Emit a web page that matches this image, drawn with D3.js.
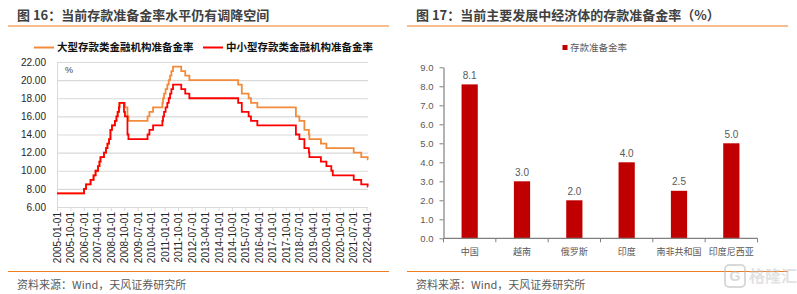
<!DOCTYPE html>
<html><head><meta charset="utf-8">
<script src="https://cdn.jsdelivr.net/npm/d3@7"></script>
<style>body{margin:0;background:#fff}svg{display:block}</style>
</head><body>
<svg id="c" width="797" height="294"></svg>
<script>
// ---------- Figure 16 data ----------
const rrrDates = ["2005-01-01","2006-07-05","2006-08-15","2006-11-15","2007-01-15","2007-02-25","2007-04-16","2007-05-15","2007-06-05","2007-08-15","2007-09-25","2007-10-25","2007-11-26","2007-12-25","2008-01-25","2008-03-25","2008-04-25","2008-05-20","2008-06-15","2008-06-25","2008-09-25","2008-10-15","2008-12-05","2008-12-25","2010-01-18","2010-02-25","2010-05-10","2010-11-16","2010-11-29","2010-12-20","2011-01-20","2011-02-24","2011-03-25","2011-04-21","2011-05-18","2011-06-20","2011-12-05","2012-02-24","2012-05-18","2015-02-05","2015-04-20","2015-09-06","2015-10-24","2016-03-01","2018-04-25","2018-07-05","2018-10-15","2019-01-15","2019-01-25","2019-09-16","2020-01-06","2020-04-15","2020-05-15","2021-07-15","2021-12-15","2022-04-25","2022-04-30"];
const largeRRR = [7.5,8.0,8.5,9.0,9.5,10.0,10.5,11.0,11.5,12.0,12.5,13.0,13.5,14.5,15.0,15.5,16.0,16.5,17.0,17.5,17.5,17.0,16.0,15.5,16.0,16.5,17.0,17.5,18.0,18.5,19.0,19.5,20.0,20.5,21.0,21.5,21.0,20.5,20.0,19.5,18.5,18.0,17.5,17.0,16.0,15.5,14.5,14.0,13.5,13.0,12.5,12.5,12.5,12.0,11.5,11.25,11.25];
const smallRRR = [7.5,8.0,8.5,9.0,9.5,10.0,10.5,11.0,11.5,12.0,12.5,13.0,13.5,14.5,15.0,15.5,16.0,16.5,17.0,17.5,16.5,16.0,14.0,13.5,14.0,14.5,15.0,15.5,16.0,16.5,17.0,17.5,18.0,18.5,19.0,19.5,19.0,18.5,18.0,17.5,16.5,16.0,15.5,15.0,14.0,13.5,12.5,12.0,11.5,11.0,10.5,10.0,9.5,9.0,8.5,8.25,8.25];
const lineSeriesNames = ["大型存款类金融机构准备金率","中小型存款类金融机构准备金率"];
const lineXTicks = ["2005-01-01","2005-10-01","2006-07-01","2007-04-01","2008-01-01","2008-10-01","2009-07-01","2010-04-01","2011-01-01","2011-10-01","2012-07-01","2013-04-01","2014-01-01","2014-10-01","2015-07-01","2016-04-01","2017-01-01","2017-10-01","2018-07-01","2019-04-01","2020-01-01","2020-10-01","2021-07-01","2022-04-01"];
const lineYTicks = [6,8,10,12,14,16,18,20,22];

// ---------- Figure 17 data ----------
const barCategories = ["中国","越南","俄罗斯","印度","南非共和国","印度尼西亚"];
const barValues = [8.1,3.0,2.0,4.0,2.5,5.0];
const barYTicks = [0,1,2,3,4,5,6,7,8,9];
const barSeriesName = "存款准备金率";

const svg = d3.select("#c");
const parse = d3.timeParse("%Y-%m-%d");
const CJK = "'Liberation Sans','Noto Sans CJK SC',sans-serif";
const ORANGE = "#F28C3C", RED = "#FF0000", RULE = "#EE7D22";

// ---------- headers / footers ----------
function frame(x0, x1, tx, title) {
  svg.append("text").attr("x", tx).attr("y", 15).attr("dy", "0.35em")
    .attr("font-family", "'Noto Sans CJK SC',sans-serif").attr("font-weight", "bold")
    .attr("font-size", 13).attr("fill", "#404040").text(title);
  svg.append("line").attr("x1", x0).attr("x2", x1).attr("y1", 26).attr("y2", 26)
    .attr("stroke", RULE).attr("stroke-width", 1.2);
  svg.append("line").attr("x1", x0).attr("x2", x1).attr("y1", 271.5).attr("y2", 271.5)
    .attr("stroke", RULE).attr("stroke-width", 1.2);
  svg.append("text").attr("x", tx).attr("y", 285).attr("dy", "0.35em")
    .attr("font-family", "'Noto Sans CJK SC',sans-serif").attr("font-size", 11)
    .attr("fill", "#595959").text("资料来源：Wind，天风证券研究所");
}
frame(8, 389, 17, "图 16：当前存款准备金率水平仍有调降空间");
frame(407, 788, 416, "图 17：当前主要发展中经济体的存款准备金率（%）");

// ---------- Figure 16: step lines ----------
const dates = rrrDates.map(parse);
const x = d3.scaleTime().domain([parse(lineXTicks[0]), parse(lineXTicks[lineXTicks.length - 1])]).range([57, 366.5]);
const y = d3.scaleLinear().domain([6, 22]).range([207, 62]);
const xEnd = x(dates[dates.length - 1]);

// gridlines
svg.append("g").attr("transform", "translate(57,0)")
  .call(d3.axisLeft(y).tickValues(lineYTicks.slice(1)).tickSize(-(xEnd - 57)).tickFormat(""))
  .call(g => g.select(".domain").remove())
  .call(g => g.selectAll(".tick line").attr("stroke", "#D9D9D9").attr("stroke-width", 1.2));
// y axis
svg.append("g").attr("transform", "translate(57,0)")
  .call(d3.axisLeft(y).tickValues(lineYTicks).tickFormat(d3.format(".2f")).tickSize(0).tickPadding(11))
  .call(g => g.select(".domain").attr("stroke", "#D9D9D9"))
  .call(g => g.selectAll("text").attr("font-family", "'Liberation Sans',sans-serif").attr("font-size", 10).attr("fill", "#262626"));
// x axis
svg.append("g").attr("transform", "translate(0,207)")
  .call(d3.axisBottom(x).tickValues(lineXTicks.map(parse)).tickFormat(d3.timeFormat("%Y-%m-%d")).tickSize(4).tickSizeOuter(0))
  .call(g => g.select(".domain").attr("d", `M57,0.5H${xEnd}`).attr("stroke", "#D9D9D9"))
  .call(g => g.selectAll(".tick line").attr("stroke", "#D9D9D9"))
  .call(g => g.selectAll("text").attr("font-family", "'Liberation Sans',sans-serif").attr("font-size", 10).attr("fill", "#262626")
    .attr("transform", "rotate(-90)").attr("text-anchor", "end").attr("x", -5).attr("y", 0).attr("dy", "0.35em"));

svg.append("text").attr("x", 65).attr("y", 70).attr("dy", "0.35em").attr("font-family", "'Liberation Sans',sans-serif")
  .attr("font-size", 9).attr("fill", "#404040").text("%");

const line = d3.line().curve(d3.curveStepAfter).x((d, i) => x(dates[i])).y(d => y(d));
svg.append("path").datum(largeRRR).attr("d", line).attr("fill", "none").attr("stroke", ORANGE).attr("stroke-width", 1.8);
svg.append("path").datum(smallRRR).attr("d", line).attr("fill", "none").attr("stroke", RED).attr("stroke-width", 1.8);

// legend
[[34, 54, 57, ORANGE, lineSeriesNames[0]], [203, 223, 226, RED, lineSeriesNames[1]]].forEach(([a, b, t, c, s]) => {
  svg.append("line").attr("x1", a).attr("x2", b).attr("y1", 47.5).attr("y2", 47.5).attr("stroke", c).attr("stroke-width", 2);
  svg.append("text").attr("x", t).attr("y", 47.5).attr("dy", "0.35em").attr("font-family", "'Noto Sans CJK SC',sans-serif")
    .attr("font-weight", "bold").attr("font-size", 10.5).attr("fill", "#111").text(s);
});

// ---------- Figure 17: bars ----------
const xb = d3.scaleBand().domain(barCategories).range([443.5, 757.5]).paddingInner(0.69).paddingOuter(0.345);
const yb = d3.scaleLinear().domain([0, 9]).range([238.3, 67.3]);

svg.append("g").attr("transform", "translate(443.5,0)")
  .call(d3.axisLeft(yb).tickValues(barYTicks).tickFormat(d3.format(".1f")).tickSize(4).tickPadding(6).tickSizeOuter(0))
  .call(g => g.select(".domain").attr("stroke", "#7F7F7F").attr("stroke-width", 1.2))
  .call(g => g.selectAll(".tick line").attr("stroke", "#7F7F7F"))
  .call(g => g.selectAll("text").attr("font-family", "'Liberation Sans',sans-serif").attr("font-size", 9.5).attr("fill", "#595959"));

svg.selectAll("rect.bar").data(barValues).join("rect").attr("class", "bar")
  .attr("x", (d, i) => xb(barCategories[i])).attr("width", xb.bandwidth())
  .attr("y", d => yb(d)).attr("height", d => yb(0) - yb(d)).attr("fill", "#C00000");

svg.selectAll("text.val").data(barValues).join("text").attr("class", "val")
  .attr("x", (d, i) => xb(barCategories[i]) + xb.bandwidth() / 2).attr("y", d => yb(d) - 9).attr("dy", "0.35em")
  .attr("text-anchor", "middle").attr("font-family", "'Liberation Sans',sans-serif").attr("font-size", 10)
  .attr("fill", "#595959").text(d => d3.format(".1f")(d));

// x axis with boundary ticks
const xAxisG = svg.append("g").attr("transform", "translate(0,238.3)");
xAxisG.append("line").attr("x1", 443.5).attr("x2", 757.5).attr("y1", 0).attr("y2", 0).attr("stroke", "#7F7F7F").attr("stroke-width", 1.2);
const step = xb.step();
xAxisG.selectAll("line.tk").data(d3.range(barCategories.length + 1)).join("line").attr("class", "tk")
  .attr("x1", i => 443.5 + i * step).attr("x2", i => 443.5 + i * step).attr("y1", 0).attr("y2", 4).attr("stroke", "#7F7F7F");
xAxisG.selectAll("text").data(barCategories).join("text")
  .attr("x", d => xb(d) + xb.bandwidth() / 2).attr("y", 14).attr("dy", "0.35em").attr("text-anchor", "middle")
  .attr("font-family", "'Noto Sans CJK SC',sans-serif").attr("font-size", 9).attr("fill", "#595959").text(d => d);

// legend
svg.append("rect").attr("x", 562.5).attr("y", 45).attr("width", 5).attr("height", 5).attr("fill", "#C00000");
svg.append("text").attr("x", 570).attr("y", 47.5).attr("dy", "0.35em").attr("font-family", "'Noto Sans CJK SC',sans-serif")
  .attr("font-size", 9.5).attr("fill", "#595959").text(barSeriesName);

// watermark
const wm = svg.append("g").attr("opacity", 0.55);
wm.append("rect").attr("x", 725).attr("y", 265).attr("width", 20).attr("height", 22).attr("rx", 4)
  .attr("fill", "none").attr("stroke", "#BBBBBB").attr("stroke-width", 2);
wm.append("text").attr("x", 735).attr("y", 276).attr("dy", "0.35em").attr("text-anchor", "middle")
  .attr("font-family", "'Liberation Sans',sans-serif").attr("font-weight", "bold").attr("font-size", 14).attr("fill", "#BBBBBB").text("G");
wm.append("text").attr("x", 749).attr("y", 276).attr("dy", "0.35em")
  .attr("font-family", "'Noto Sans CJK SC',sans-serif").attr("font-weight", "bold").attr("font-size", 16).attr("fill", "#CCCCCC").text("格隆汇");
</script>
</body></html>
